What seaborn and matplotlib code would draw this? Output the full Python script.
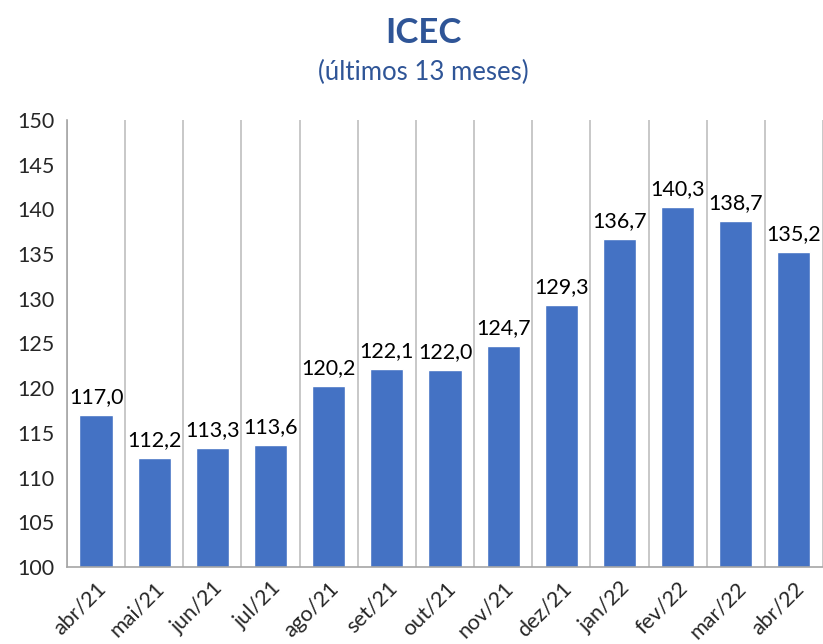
import numpy as np
import pandas as pd
import matplotlib.pyplot as plt
import seaborn as sns

meses = ["abr/21", "mai/21", "jun/21", "jul/21", "ago/21", "set/21", "out/21",
         "nov/21", "dez/21", "jan/22", "fev/22", "mar/22", "abr/22"]
icec = [117.0, 112.2, 113.3, 113.6, 120.2, 122.1, 122.0,
        124.7, 129.3, 136.7, 140.3, 138.7, 135.2]

df = pd.DataFrame({"mes": meses, "icec": icec})

sns.set_style("white")
plt.rcParams["font.family"] = ["Lato", "DejaVu Sans"]

fig = plt.figure(figsize=(8.23, 6.44), dpi=100)
ax = fig.add_axes([0.0814, 0.1196, 0.9186, 0.6941])

sns.barplot(data=df, x="mes", y="icec", color="#4472C4", saturation=1,
            width=0.57, ax=ax)

# rótulos de dados com vírgula decimal
for i, v in enumerate(icec):
    ax.text(i, v + 0.9, f"{v:.1f}".replace(".", ","), ha="center", va="bottom",
            fontsize=15.5, color="black")

ax.set_ylim(100, 150)
ax.set_yticks(np.arange(100, 151, 5))
ax.set_xlim(-0.5, len(meses) - 0.5)

# linhas verticais entre categorias
ax.set_xticks(np.arange(-0.5, len(meses), 1.0), minor=True)
ax.grid(False)
ax.grid(True, which="minor", axis="x", color="#BFBFBF", linewidth=1.2)
ax.tick_params(axis="x", which="minor", length=7, color="#A6A6A6", width=1.2)
ax.tick_params(axis="x", which="major", length=0, pad=8)
ax.tick_params(axis="y", length=5, color="#A6A6A6", labelsize=15.5, pad=4)

ax.set_xticks(range(len(meses)))
ax.set_xticklabels(meses, rotation=45, ha="right", rotation_mode="anchor",
                   fontsize=15.5)
ax.set_xlabel("")
ax.set_ylabel("")

for s in ["top", "right"]:
    ax.spines[s].set_visible(False)
for s in ["left", "bottom"]:
    ax.spines[s].set_color("#A6A6A6")
    ax.spines[s].set_linewidth(1.2)

fig.text(0.514, 0.949, "ICEC", ha="center", va="center", fontsize=25,
         fontweight="bold", color="#2F5597")
fig.text(0.514, 0.887, "(últimos 13 meses)", ha="center", va="center",
         fontsize=18.5, color="#2F5597")

fig.savefig("out.png", dpi=100)
